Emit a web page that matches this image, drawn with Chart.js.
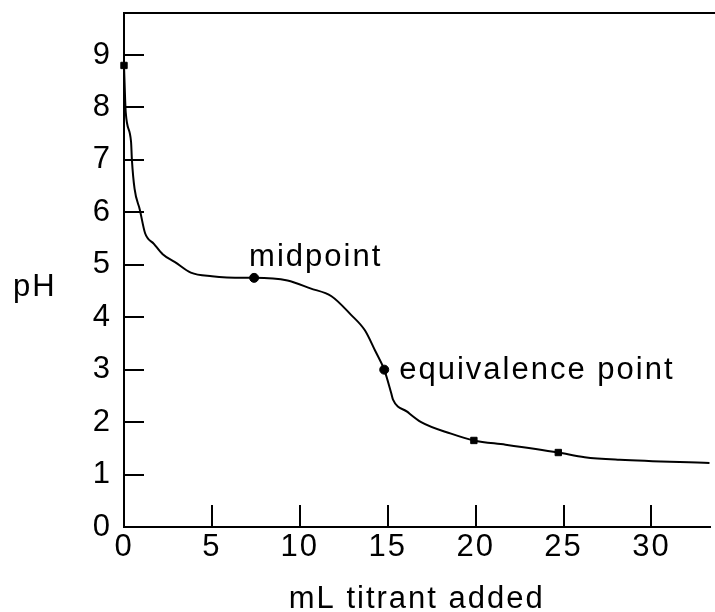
<!DOCTYPE html>
<html>
<head>
<meta charset="utf-8">
<script src="https://cdn.jsdelivr.net/npm/chart.js@4.4.0/dist/chart.umd.min.js"></script>
<style>
body { margin: 0; background: #fff; overflow: hidden; }
#wrap { width: 715px; height: 612px; }
</style>
</head>
<body>
<div id="wrap"><canvas id="myChart"></canvas></div>
<script>
// curve (mL titrant, pH)
var volumeX = [0, 0.1, 0.4, 0.45, 0.6, 0.9, 1.2, 1.7, 2.2, 2.9, 3.8, 5, 6.8, 7.4, 9.3, 10.6, 11.8, 12.9, 13.7, 14.3, 14.8, 15.2, 15.3, 16.1, 16.9, 18.6, 19.9, 21.7, 24.7, 26.2, 28.2, 33.3];
var phY = [8.8, 7.9, 7.35, 7.0, 6.45, 6.05, 5.6, 5.4, 5.2, 5.05, 4.85, 4.78, 4.75, 4.75, 4.7, 4.55, 4.4, 4.05, 3.75, 3.35, 3.0, 2.55, 2.43, 2.2, 2.0, 1.78, 1.65, 1.57, 1.42, 1.33, 1.28, 1.22];

// marked points
var markX = [0, 7.4, 14.8, 19.9, 24.7];
var markY = [8.8, 4.75, 3.0, 1.65, 1.42];

var xTicks = [0, 5, 10, 15, 20, 25, 30];
var yTicks = [0, 1, 2, 3, 4, 5, 6, 7, 8, 9];

var xTitle = 'mL titrant added';
var yTitle = 'pH';
var notes = ['midpoint', 'equivalence point'];

var fontFam = '"Liberation Sans", Arial, sans-serif';

function puntos(xs, ys) {
    var out = [];
    for (var i = 0; i < xs.length; i++) {
        out.push({ x: xs[i], y: ys[i] });
    }
    return out;
}

function sinPadding(s) {
    s.paddingTop = 0;
    s.paddingBottom = 0;
    s.paddingLeft = 0;
    s.paddingRight = 0;
}

// top frame line, pH label and the two notes
var extras = {
    id: 'extras',
    beforeDraw: function(chart) {
        chart.ctx.letterSpacing = '2px';
    },
    afterDraw: function(chart) {
        var ctx = chart.ctx;
        var a = chart.chartArea;
        var xs = chart.scales.x;
        var ys = chart.scales.y;
        ctx.save();
        ctx.strokeStyle = '#000';
        ctx.lineWidth = 2;
        ctx.beginPath();
        ctx.moveTo(a.left - 1, a.top);
        ctx.lineTo(chart.width, a.top);
        ctx.stroke();

        ctx.fillStyle = '#000';
        ctx.font = '31px ' + fontFam;
        ctx.letterSpacing = '2px';
        ctx.textAlign = 'left';
        ctx.textBaseline = 'alphabetic';
        ctx.fillText(yTitle, 13, 296);
        ctx.fillText(notes[0], xs.getPixelForValue(markX[1]) - 5, ys.getPixelForValue(markY[1]) - 12);
        ctx.fillText(notes[1], xs.getPixelForValue(markX[2]) + 15, ys.getPixelForValue(markY[2]) + 9);
        ctx.restore();
    }
};

function chartCreate() {
    const data = {
        datasets: [{
            label: 'curve',
            data: puntos(volumeX, phY),
            borderColor: '#000',
            borderWidth: 2,
            pointRadius: 0,
            fill: false,
            cubicInterpolationMode: 'monotone',
            clip: false
        }, {
            label: 'marks',
            type: 'scatter',
            data: puntos(markX, markY),
            backgroundColor: '#000',
            borderColor: '#000',
            borderWidth: 1,
            pointStyle: ['rect', 'circle', 'circle', 'rect', 'rect'],
            pointRadius: [4.5, 4.5, 4.5, 4.5, 4.5],
            showLine: false,
            clip: false
        }]
    };
    const config = {
        type: 'line',
        data: data,
        options: {
            responsive: true,
            maintainAspectRatio: false,
            animation: false,
            events: [],
            layout: { padding: { top: 13, left: 0, right: -5, bottom: 0 } },
            plugins: {
                legend: { display: false },
                tooltip: { enabled: false }
            },
            scales: {
                x: {
                    type: 'linear',
                    min: 0,
                    max: 33.3,
                    afterFit: function(s) { s.height = 85; sinPadding(s); },
                    afterBuildTicks: function(s) { s.ticks = xTicks.map(function(v) { return { value: v }; }); },
                    border: { display: true, color: '#000', width: 2 },
                    grid: { drawOnChartArea: false, drawTicks: true, tickLength: -22, color: '#000', lineWidth: 2 },
                    ticks: { color: '#000', font: { family: fontFam, size: 31 }, padding: 24, maxRotation: 0, autoSkip: false },
                    title: { display: true, text: xTitle, color: '#000', font: { family: fontFam, size: 31, lineHeight: 0.8 }, padding: 0 }
                },
                y: {
                    type: 'linear',
                    min: 0,
                    max: 9.8,
                    afterFit: function(s) { s.width = 124; sinPadding(s); },
                    afterBuildTicks: function(s) { s.ticks = yTicks.map(function(v) { return { value: v }; }); },
                    border: { display: true, color: '#000', width: 2 },
                    grid: { drawOnChartArea: false, drawTicks: true, tickLength: -20, color: '#000', lineWidth: 2 },
                    ticks: { color: '#000', font: { family: fontFam, size: 31 }, padding: 32, autoSkip: false }
                }
            }
        },
        plugins: [extras]
    };
    const myChart = new Chart(document.getElementById('myChart'), config);
}

chartCreate();
</script>
</body>
</html>
